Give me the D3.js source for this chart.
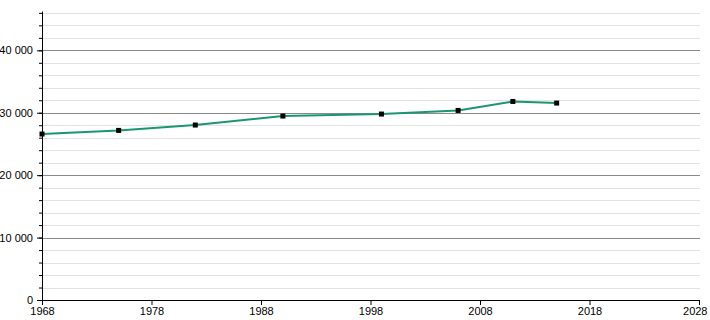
<!DOCTYPE html>
<html>
<head>
<meta charset="utf-8">
<script src="https://cdn.jsdelivr.net/npm/d3@7"></script>
<style>
  body { margin: 0; background: #fff; }
  svg text { font-family: "Liberation Sans", Arial, sans-serif; font-size: 11px; fill: #000; }
</style>
</head>
<body>
<div id="chart"></div>
<script>
// census years and population
const years = [1968, 1975, 1982, 1990, 1999, 2006, 2011, 2015];
const population = [26590, 27170, 28030, 29470, 29790, 30370, 31810, 31550];
const xTicks = [1968, 1978, 1988, 1998, 2008, 2018, 2028];
const yMajor = [0, 10000, 20000, 30000, 40000];
const yMinor = d3.range(0, 46001, 2000);

const width = 710, height = 320;
const margin = {top: 11, right: 11, bottom: 20, left: 42};
const h = height - margin.top - margin.bottom;

const svg = d3.select("#chart").append("svg")
  .attr("width", width).attr("height", height);
const chart = svg.append("g").attr("transform", "translate(" + margin.left + "," + margin.top + ")");

const x = d3.scaleLinear().domain([1968, 2028]).range([0, 657]);
const y = d3.scaleLinear().domain([0, 46300]).range([h, 0]);

const fmt = v => d3.format(",")(v).replace(/,/g, " ");

// minor grid
chart.append("g").selectAll("line").data(yMinor.filter(v => v % 10000 !== 0)).join("line")
  .attr("x1", 0).attr("x2", 658)
  .attr("y1", d => Math.round(y(d)) + 0.5).attr("y2", d => Math.round(y(d)) + 0.5)
  .attr("stroke", "#e2e2e2").attr("stroke-width", 1);

// major grid
chart.append("g").selectAll("line").data(yMajor.filter(v => v > 0)).join("line")
  .attr("x1", 0).attr("x2", 658)
  .attr("y1", d => Math.round(y(d)) + 0.5).attr("y2", d => Math.round(y(d)) + 0.5)
  .attr("stroke", "#8a8a8a").attr("stroke-width", 1);

// y axis: minor ticks then major with labels
const yAxisMinor = chart.append("g")
  .call(d3.axisLeft(y).tickValues(yMinor).tickSize(3).tickFormat(""));
yAxisMinor.select(".domain").remove();
yAxisMinor.selectAll("line").attr("stroke", "#000");

const yAxis = chart.append("g")
  .call(d3.axisLeft(y).tickValues(yMajor).tickSize(5).tickPadding(4).tickFormat(fmt));
yAxis.select(".domain").attr("d", "M0.5," + (h + 0.5) + "V0.5").attr("stroke", "#000");
yAxis.selectAll("line").attr("stroke", "#000");
yAxis.selectAll("text").style("font-family", "Liberation Sans, Arial, sans-serif").style("font-size", "11px");

// x axis
const xAxis = chart.append("g")
  .attr("transform", "translate(0," + h + ")")
  .call(d3.axisBottom(x).tickValues(xTicks).tickSize(5).tickPadding(2).tickFormat(d3.format("d")));
xAxis.select(".domain").attr("d", "M0,0.5H657.5").attr("stroke", "#000");
xAxis.selectAll("line").attr("stroke", "#000");
xAxis.selectAll("text").style("font-family", "Liberation Sans, Arial, sans-serif").style("font-size", "11px");
// last label stays inside the frame
xAxis.selectAll(".tick").filter(d => d === 2028).select("text")
  .attr("text-anchor", "end").attr("x", 8);

// line
const pts = years.map((yr, i) => ({year: yr, value: population[i]}));
const line = d3.line().x(d => x(d.year)).y(d => y(d.value));
chart.append("path").datum(pts)
  .attr("d", line)
  .attr("fill", "none")
  .attr("stroke", "#1a9673")
  .attr("stroke-width", 2);

// markers
chart.append("g").selectAll("rect").data(pts).join("rect")
  .attr("x", d => x(d.year) - 2.5).attr("y", d => y(d.value) - 2.5)
  .attr("width", 5).attr("height", 5)
  .attr("fill", "#000");
</script>
</body>
</html>
